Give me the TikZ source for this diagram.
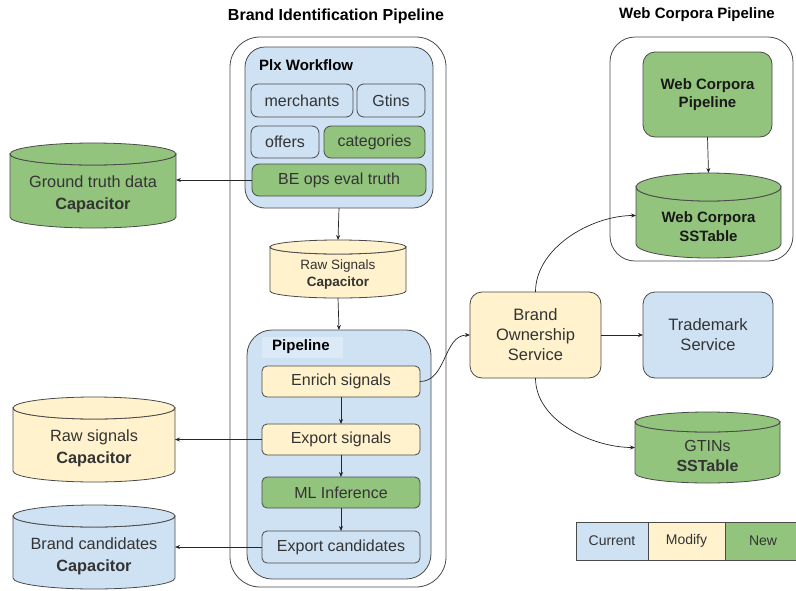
\documentclass[tikz,border=0pt]{standalone}
\usepackage{fontspec}
\setmainfont{Liberation Sans}
\usetikzlibrary{arrows.meta}
\definecolor{cblue}{HTML}{CFE2F3}
\definecolor{cyel}{HTML}{FFF2CC}
\definecolor{cgrn}{HTML}{93C47D}
\definecolor{bd}{HTML}{4A4A4A}
\definecolor{txt}{HTML}{333333}
\definecolor{hl}{HTML}{DCEAF7}
\newcommand\fs[2]{\fontsize{#1}{#2}\selectfont}
% cylinder: [opts], name, x1, ytop, x2, ybot, ry, fill, text
\newcommand\mycyl[9][]{%
 \pgfmathsetmacro\myCX{(#3+#5)/2}%
 \pgfmathsetmacro\myRX{(#5-#3)/2}%
 \pgfmathsetmacro\myYA{#4+#7}%
 \pgfmathsetmacro\myYB{#6-#7}%
 \pgfmathsetmacro\myCY{(#4+#6)/2}%
 \pgfmathsetmacro\myTY{(#4+#6)/2+0.8*#7}%
 \pgfmathsetmacro\myW{#5-#3}%
 \pgfmathsetmacro\myH{#6-#4}%
 \path[fill=#8,draw=bd,line width=0.8pt] (#3,\myYA) -- (#3,\myYB)
   arc[start angle=180,end angle=360,x radius=\myRX pt,y radius=#7pt]
   -- (#5,\myYA)
   arc[start angle=0,end angle=-180,x radius=\myRX pt,y radius=#7pt] -- cycle;
 \path[fill=#8,draw=bd,line width=0.8pt] (\myCX,\myYA) ellipse[x radius=\myRX pt,y radius=#7pt];
 \node[minimum width=\myW pt,minimum height=\myH pt,inner sep=0,outer sep=0] (#2) at (\myCX,\myCY) {};
 \node[align=center,text=txt,inner sep=0,#1] (#2-t) at (\myCX,\myTY) {#9};
}
% box: [opts], name, x1, y1, x2, y2, fill, radius, text
\newcommand\mybox[9][]{%
 \pgfmathsetmacro\myCX{(#3+#5)/2}%
 \pgfmathsetmacro\myCY{(#4+#6)/2}%
 \pgfmathsetmacro\myW{#5-#3}%
 \pgfmathsetmacro\myH{#6-#4}%
 \node[box,fill=#7,rounded corners=#8pt,minimum width=\myW pt,minimum height=\myH pt,#1] (#2) at (\myCX,\myCY) {#9};
}
\tikzset{
 box/.style={draw=bd,line width=0.8pt,inner sep=0pt,outer sep=0pt,text=txt,align=center,font=\fs{16}{20}},
 arr/.style={draw=black!85,line width=0.7pt,-{Stealth[length=5pt,width=4pt]}},
 leg/.style={draw=bd,line width=0.8pt,minimum height=38pt,inner sep=0,text=txt,font=\fs{14}{17}},
}
\begin{document}
\begin{tikzpicture}[x=1pt,y=-1pt]
\useasboundingbox (0,0) rectangle (796,590);
% titles
\node[font=\bfseries\fs{16}{19}] (t1) at (336,16) {Brand Identification Pipeline};
\node[font=\bfseries\fs{15}{18}] (t2) at (697,15) {Web Corpora Pipeline};
% containers
\mybox{bio}{230}{37}{446}{587}{white}{30}{}
\mybox{wco}{610}{37}{793}{261}{white}{25}{}
\mybox{plx}{245}{47}{433}{208}{cblue}{20}{}
\node[font=\bfseries\fs{15}{18},anchor=west,inner sep=0] (plxl) at (259,65) {Plx Workflow};
\mybox{merch}{251}{84}{353}{117}{cblue}{7}{merchants}
\mybox{gtins}{357}{84}{425}{117}{cblue}{7}{Gtins}
\mybox{offers}{251}{126}{319}{158}{cblue}{7}{offers}
\mybox{cat}{324}{126}{425}{158}{cgrn}{7}{categories}
\mybox{be}{252}{164}{426}{196}{cgrn}{7}{BE ops eval truth}
\mycyl[font=\fs{13.5}{17}]{rawm}{270}{240}{406}{298}{7}{cyel}{Raw Signals\\\textbf{Capacitor}}
\mybox{pipe}{247}{330}{431}{579}{cblue}{25}{}
\node[fill=hl,minimum width=81pt,minimum height=21pt,inner sep=0] (pipehl) at (302.5,347.5) {};
\node[font=\bfseries\fs{15}{18},anchor=west,inner sep=0] (pipel) at (272,347) {Pipeline};
\mybox{enrich}{262}{366}{420}{397}{cyel}{5}{Enrich signals}
\mybox{exsig}{262}{424}{420}{455}{cyel}{5}{Export signals}
\mybox{ml}{262}{477}{420}{508}{cgrn}{5}{ML Inference}
\mybox{excand}{262}{531}{420}{563}{cblue}{5}{Export candidates}
% left cylinders
\mycyl[font=\fs{16.3}{22}]{gt}{10}{143}{176}{228}{11}{cgrn}{Ground truth data\\\textbf{Capacitor}}
\mycyl[font=\fs{16.3}{22}]{rawl}{13}{397}{175}{482}{11}{cyel}{Raw signals\\\textbf{Capacitor}}
\mycyl[font=\fs{16.3}{22}]{bc}{13}{505}{175}{589}{11}{cblue}{Brand candidates\\\textbf{Capacitor}}
% right side
\mybox[font=\fs{16.5}{20}]{bos}{470}{292}{601}{378}{cyel}{12}{Brand\\Ownership\\Service}
\mybox[font=\fs{16.5}{20}]{tm}{643}{292}{773}{378}{cblue}{12}{Trademark\\Service}
\mybox[font=\bfseries\fs{15}{18},text=black!90]{wcp}{643}{52}{772}{137}{cgrn}{12}{Web Corpora\\Pipeline}
\mycyl[font=\bfseries\fs{15}{19},text=black!90]{wcs}{636}{173}{781}{258}{14}{cgrn}{Web Corpora\\SSTable}
\mycyl[font=\fs{16}{20}]{gtin}{635}{412}{780}{483}{10}{cgrn}{GTINs\\\textbf{SSTable}}
% legend
\node[leg,fill=cblue,minimum width=72pt] (lc) at (612,541) {Current};
\node[leg,fill=cyel,minimum width=77pt] (lm) at (686.5,541) {Modify};
\node[leg,fill=cgrn,minimum width=76pt] (ln) at (763,541) {New};
% connectors
\draw[arr] (be.west) -- (be.west -| gt.east);
\draw[arr] (plx.south) -- (rawm.north);
\draw[arr] (rawm.south) -- (pipe.north);
\draw[arr] (enrich.south) -- (exsig.north);
\draw[arr] (exsig.south) -- (ml.north);
\draw[arr] (ml.south) -- (excand.north);
\draw[arr] (exsig.west) -- (exsig.west -| rawl.east);
\draw[arr] (excand.west) -- (excand.west -| bc.east);
\draw[arr] (enrich.east) to[out=0,in=180] (bos.west);
\draw[arr] (bos.east) -- (tm.west);
\draw[arr] (bos.south) to[out=-90,in=180,looseness=0.9] (gtin.west);
\draw[arr] (bos.north) to[out=90,in=180,looseness=0.9] (wcs.west);
\draw[arr] (wcp.south) -- (wcs.north);
\end{tikzpicture}
\end{document}
